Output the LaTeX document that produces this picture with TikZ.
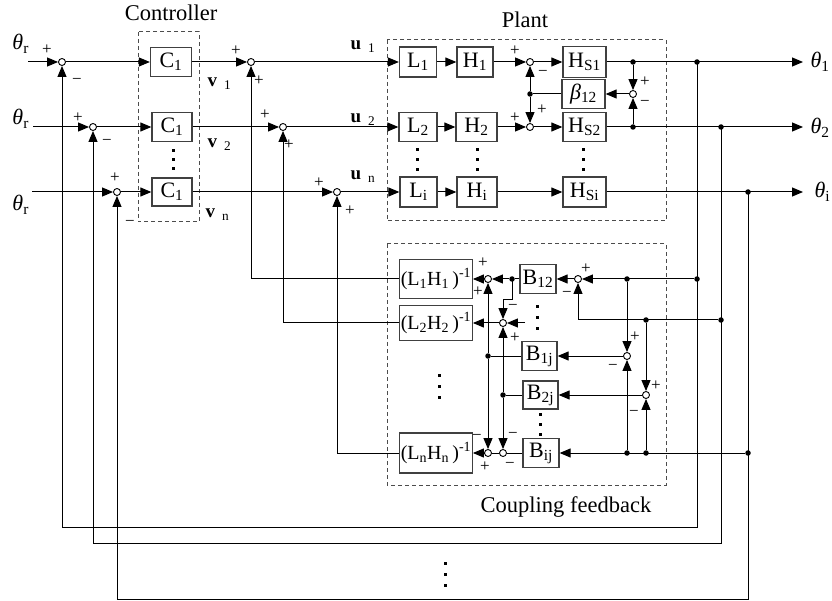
\documentclass[tikz,border=0pt]{standalone}
\usepackage{fontspec}
\setmainfont{Liberation Serif}
\usetikzlibrary{arrows.meta}
\newcommand\mydots[3]{\foreach \k in {0,1,2}{\fill (#1-1.5,#2+\k*#3-1.5) rectangle ++(3,3);}}
\begin{document}
\begin{tikzpicture}[x=1pt,y=-1pt,line width=1pt,
  >={Triangle[length=11pt,width=9pt]},
  blk/.style={draw=black!75,line width=1.3pt,inner sep=1pt,font=\fontsize{22}{24}\selectfont},
  inv/.style={blk,font=\fontsize{20}{22}\selectfont,minimum width=68pt},
  sj/.style={circle,draw,fill=white,inner sep=0pt,minimum size=7pt,line width=0.9pt},
  dt/.style={circle,fill,inner sep=0pt,minimum size=5.5pt},
  sg/.style={font=\fontsize{17}{17}\selectfont,inner sep=0pt},
  lbl/.style={font=\fontsize{22.5}{24}\selectfont,inner sep=0pt},
  th/.style={font=\fontsize{22}{24}\selectfont,inner sep=0pt},
  uv/.style={font=\fontsize{19}{21}\selectfont,inner sep=0pt},
  dbox/.style={draw=black!70,line width=1pt,dash pattern=on 4pt off 3pt}]
\fill[white] (0,0) rectangle (832,601);
\useasboundingbox (0,0) rectangle (832,601);

% ---------------- Controller ----------------
\node[blk,minimum width=41pt,minimum height=29pt] (c1) at (171,62) {C\textsubscript{1}};
\node[blk,minimum width=40pt,minimum height=29pt] (c2) at (172,127) {C\textsubscript{1}};
\node[blk,minimum width=40pt,minimum height=28pt] (c3) at (172,192) {C\textsubscript{1}};
\draw[dbox] (138,32) rectangle (199,222);
\node[lbl,anchor=base] (ctl) at (171,21) {Controller};
\mydots{173}{151}{9}

% left summing junctions and inputs
\node[sj] (s1) at (62,62) {};
\node[sj] (s2) at (93,127) {};
\node[sj] (s3) at (117,192) {};
\coordinate (in1) at (28,62);
\coordinate (in2) at (33,127);
\coordinate (in3) at (32,192);
\node[th,anchor=base west] (r1) at (12,50) {\textit{θ}\textsubscript{r}};
\node[th,anchor=base west] (r2) at (12,125) {\textit{θ}\textsubscript{r}};
\node[th,anchor=base west] (r3) at (12,211) {\textit{θ}\textsubscript{r}};

% second summing junctions
\node[sj] (t1) at (251,62) {};
\node[sj] (t2) at (283,127) {};
\node[sj] (t3) at (337,192) {};

% v and u labels
\node[uv,anchor=base west] (v1) at (207,87) {\textbf{v}\hspace{7pt}\textsubscript{1}};
\node[uv,anchor=base west] (v2) at (207,148) {\textbf{v}\hspace{7pt}\textsubscript{2}};
\node[uv,anchor=base west] (vn) at (205,218) {\textbf{v}\hspace{7pt}\textsubscript{n}};
\node[uv,anchor=base west] (u1) at (350,50) {\textbf{u}\hspace{7pt}\textsubscript{1}};
\node[uv,anchor=base west] (u2) at (350,123) {\textbf{u}\hspace{7pt}\textsubscript{2}};
\node[uv,anchor=base west] (un) at (350,180) {\textbf{u}\hspace{7pt}\textsubscript{n}};

% ---------------- Plant ----------------
\node[blk,minimum width=37pt,minimum height=30pt] (l1) at (418,62) {L\textsubscript{1}};
\node[blk,minimum width=36pt,minimum height=30pt] (h1) at (475,62) {H\textsubscript{1}};
\node[sj] (p1) at (530,62) {};
\node[blk,minimum width=43pt,minimum height=31pt] (hs1) at (584.5,62) {H\textsubscript{S1}};
\node[blk,minimum width=38pt,minimum height=29pt] (l2) at (418,127) {L\textsubscript{2}};
\node[blk,minimum width=41pt,minimum height=29pt] (h2) at (476.5,127) {H\textsubscript{2}};
\node[sj] (p2) at (530,127) {};
\node[blk,minimum width=43pt,minimum height=29pt] (hs2) at (584.5,127) {H\textsubscript{S2}};
\node[blk,minimum width=37pt,minimum height=30pt] (li) at (418.5,192) {L\textsubscript{i}};
\node[blk,minimum width=40pt,minimum height=30pt] (hi) at (477,192) {H\textsubscript{i}};
\node[blk,minimum width=43pt,minimum height=30pt] (hsi) at (584.5,192) {H\textsubscript{Si}};
\node[dt] (pd) at (530,94) {};
\node[blk,minimum width=43pt,minimum height=29pt] (beta) at (583.5,94) {\textit{β}\textsubscript{12}};
\node[sj] (q) at (633,94) {};
\node[dt] (qa) at (633,62) {};
\node[dt] (qb) at (633,127) {};
\draw[dbox] (387,40) rectangle (666,221);
\node[lbl,anchor=base] (plt) at (525,28) {Plant};
\mydots{417}{150}{10}
\mydots{477}{150}{10}
\mydots{583}{150}{10}

% outputs
\node[dt] (od1) at (697,62) {};
\node[dt] (od2) at (721,127) {};
\node[dt] (od3) at (748,192) {};
\coordinate (o1) at (803,62);
\coordinate (o2) at (803,127);
\coordinate (o3) at (803,192);
\node[th,anchor=base west] (y1) at (810,68) {\textit{θ}\textsubscript{1}};
\node[th,anchor=base west] (y2) at (810,134) {\textit{θ}\textsubscript{2}};
\node[th,anchor=base west] (y3) at (814,198) {\textit{θ}\textsubscript{i}};

% ---------------- Coupling feedback ----------------
\node[inv,minimum height=39pt] (inv1) at (436,279) {(L\textsubscript{1}H\textsubscript{1}\,)\textsuperscript{-1}};
\node[inv,minimum height=35pt] (inv2) at (436,323) {(L\textsubscript{2}H\textsubscript{2}\,)\textsuperscript{-1}};
\node[inv,minimum height=40pt] (invn) at (436,453) {(L\textsubscript{n}H\textsubscript{n}\,)\textsuperscript{-1}};
\node[sj] (A) at (488,279) {};
\node[dt] (a1) at (512,279) {};
\node[blk,minimum width=36pt,minimum height=29pt] (b12) at (538,279) {B\textsubscript{12}};
\node[sj] (E) at (578,279) {};
\node[dt] (g1) at (627,279) {};
\node[dt] (d1c) at (697,279) {};
\node[sj] (B) at (503,323) {};
\coordinate (a1k) at (512,300);
\coordinate (bin) at (525,323);
\node[dt] (e1) at (488,356) {};
\node[blk,minimum width=35pt,minimum height=29pt] (b1j) at (539.5,356) {B\textsubscript{1j}};
\node[sj] (F) at (627,356) {};
\node[dt] (h1c) at (646,320) {};
\node[dt] (d2c) at (721,320) {};
\node[dt] (e2) at (503,395) {};
\node[blk,minimum width=35pt,minimum height=28pt] (b2j) at (540.5,395) {B\textsubscript{2j}};
\node[sj] (G) at (646,395) {};
\node[sj] (C) at (488,453) {};
\node[sj] (D) at (503,453) {};
\node[blk,minimum width=36pt,minimum height=29pt] (bij) at (541,453) {B\textsubscript{ij}};
\node[dt] (g2) at (627,453) {};
\node[dt] (h2c) at (646,453) {};
\node[dt] (d3c) at (748,453) {};
\draw[dbox] (387,244) rectangle (666,485);
\node[lbl,anchor=base] (cpl) at (566,512) {Coupling feedback};
\mydots{439}{375}{11}
\mydots{537}{307}{11}
\mydots{540}{414}{10}
\mydots{445}{563}{11}

% loop corners
\coordinate (lp1) at (62,527);
\coordinate (lp2) at (93,543);
\coordinate (lp3) at (117,599);

% ---------------- connectors ----------------
\draw[->] (in1) -- (s1);
\draw[->] (in2) -- (s2);
\draw[->] (in3) -- (s3);
\draw[->] (s1) -- (c1);
\draw[->] (s2) -- (c2);
\draw[->] (s3) -- (c3);
\draw[->] (c1) -- (t1);
\draw[->] (c2) -- (t2);
\draw[->] (c3) -- (t3);
\draw[->] (t1) -- (l1);
\draw[->] (t2) -- (l2);
\draw[->] (t3) -- (li);
\draw[->] (l1) -- (h1);
\draw[->] (l2) -- (h2);
\draw[->] (li) -- (hi);
\draw[->] (h1) -- (p1);
\draw[->] (h2) -- (p2);
\draw[->] (hi) -- (hsi);
\draw[->] (p1) -- (hs1);
\draw[->] (p2) -- (hs2);
\draw[->] (hs1) -- (o1);
\draw[->] (hs2) -- (o2);
\draw[->] (hsi) -- (o3);
\draw (beta) -- (pd);
\draw[->] (pd) -- (p1);
\draw[->] (pd) -- (p2);
\draw[->] (qa) -- (q);
\draw[->] (qb) -- (q);
\draw[->] (q) -- (beta);

\draw[->] (inv1.west) -| (t1);
\draw[->] (inv2.west) -| (t2);
\draw[->] (invn.west) -| (t3);

\draw[->] (od1.center) |- (lp1) -- (s1);
\draw[->] (od2.center) |- (lp2) -- (s2);
\draw[->] (od3.center) |- (lp3) -- (s3);

\draw[->] (d1c) -- (E);
\draw[->] (d2c) -| (E);
\draw[->] (E) -- (b12);
\draw (b12) -- (a1);
\draw[->] (a1) -- (A);
\draw[->] (A) -- (inv1);
\draw[->] (a1.center) -- (a1k) -| (B);
\draw[->] (bin) -- (B);
\draw[->] (B) -- (inv2);
\draw (b1j) -- (e1);
\draw[->] (e1) -- (A);
\draw[->] (e1) -- (C);
\draw (b2j) -- (e2);
\draw[->] (e2) -- (B);
\draw[->] (e2) -- (D);
\draw (bij) -- (D);
\draw (D) -- (C);
\draw[->] (C) -- (invn);
\draw[->] (g1) -- (F);
\draw[->] (g2) -- (F);
\draw[->] (F) -- (b1j);
\draw[->] (h1c) -- (G);
\draw[->] (h2c) -- (G);
\draw[->] (G) -- (b2j);
\draw[->] (d3c) -- (bij);

% ---------------- signs ----------------
\node[sg] (z1) at (47,50) {+};
\node[sg] (z2) at (77,81) {−};
\node[sg] (z3) at (78,118) {+};
\node[sg] (z4) at (107,142) {−};
\node[sg] (z5) at (115,178) {+};
\node[sg] (z6) at (130,223) {−};
\node[sg] (z7) at (236,51) {+};
\node[sg] (z8) at (259,81) {+};
\node[sg] (z9) at (265,115) {+};
\node[sg] (z10) at (289,145) {+};
\node[sg] (z11) at (319,183) {+};
\node[sg] (z12) at (350,211) {+};
\node[sg] (z13) at (515,51) {+};
\node[sg] (z14) at (543,73) {−};
\node[sg] (z15) at (515,118) {+};
\node[sg] (z16) at (542,110) {+};
\node[sg] (z17) at (645,82) {+};
\node[sg] (z18) at (645,103) {−};
\node[sg] (z19) at (483,263) {+};
\node[sg] (z20) at (478,292) {+};
\node[sg] (z21) at (513,307) {−};
\node[sg] (z22) at (515,338) {+};
\node[sg] (z23) at (477,437) {−};
\node[sg] (z24) at (485,467) {+};
\node[sg] (z25) at (513,435) {−};
\node[sg] (z26) at (510,465) {−};
\node[sg] (z27) at (586,269) {+};
\node[sg] (z28) at (567,294) {−};
\node[sg] (z29) at (635,337) {+};
\node[sg] (z30) at (613,367) {−};
\node[sg] (z31) at (656,386) {+};
\node[sg] (z32) at (634,413) {−};
\end{tikzpicture}
\end{document}
